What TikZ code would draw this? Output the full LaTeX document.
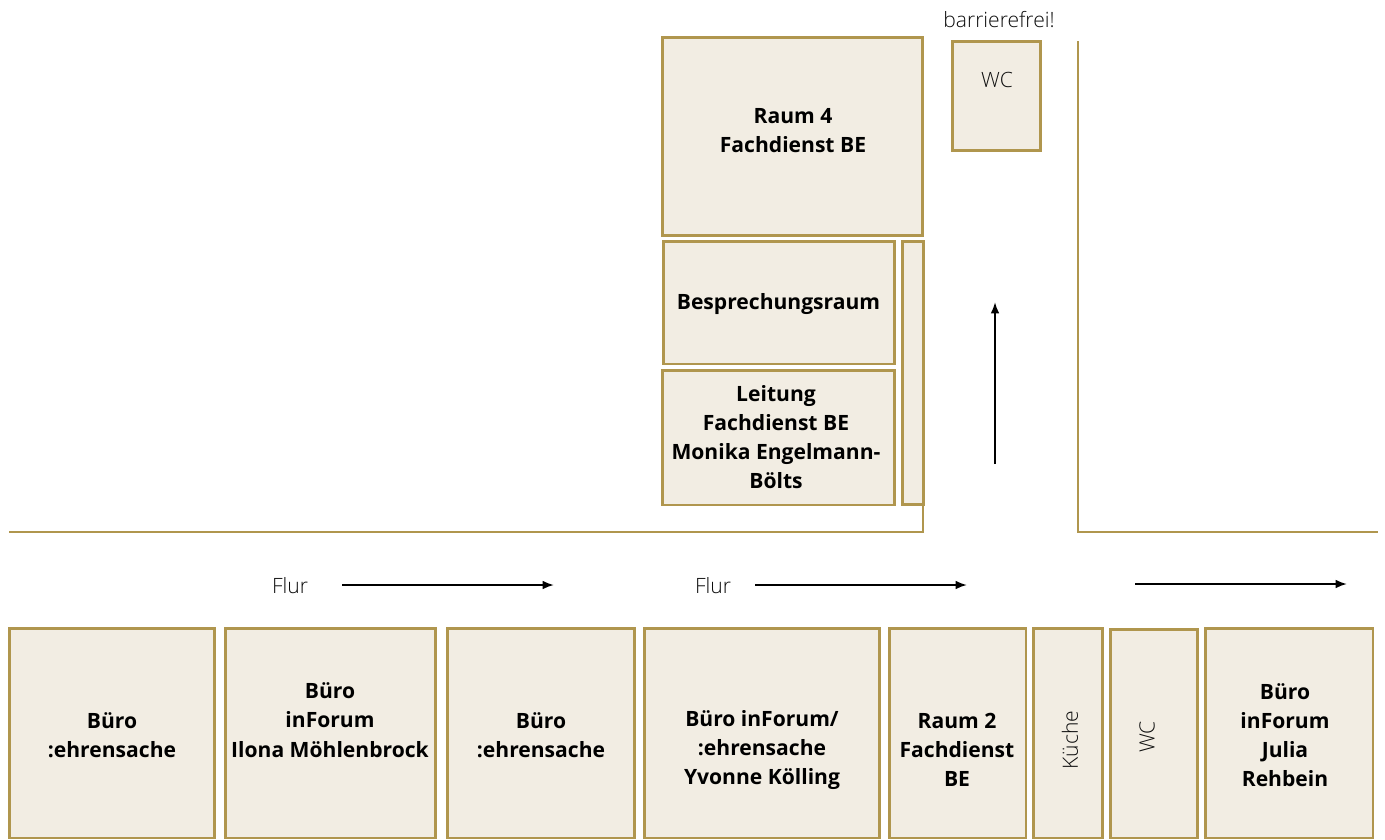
\documentclass[tikz,border=0pt]{standalone}
\usepackage{fontspec}
\setmainfont{Open Sans}
\newfontfamily\lightfont{Open Sans Light}
\usetikzlibrary{arrows.meta}
\definecolor{wallgold}{HTML}{B0964E}
\definecolor{roomfill}{HTML}{F2EDE3}
\tikzset{
  room/.style={draw=wallgold,fill=roomfill,line width=1.7pt,inner sep=0pt},
  roomname/.style={font=\fontsize{12}{16.6}\selectfont\bfseries,align=center,inner sep=0pt},
  plainname/.style={font=\fontsize{12}{14}\selectfont\lightfont,text=black!95,inner sep=0pt},
  wall/.style={draw=wallgold,line width=1.6pt},
  walk/.style={line width=1.15pt,-{Latex[length=6.5pt,width=5pt]}}
}
\begin{document}
\begin{tikzpicture}[x=0.02cm,y=-0.02cm]
    \useasboundingbox[fill=white] (0,0) rectangle (1385,839);
    % upper block
    \node[room,minimum width=5.19cm,minimum height=3.95cm] (raumvier) at (792.7,136.7) {};
    \node[room,minimum width=1.75cm,minimum height=2.18cm] (wcoben) at (996.7,96) {};
    \node[room,minimum width=4.64cm,minimum height=2.46cm] (bespr) at (779,302.5) {};
    \node[room,minimum width=4.64cm,minimum height=2.70cm] (leitung) at (778.5,437.5) {};
    \node[room,minimum width=0.42cm,minimum height=5.28cm] (schmal) at (912.5,373) {};
    % lower row
    \node[room,minimum width=4.12cm,minimum height=4.20cm] (bueroa) at (112,733) {};
    \node[room,minimum width=4.22cm,minimum height=4.20cm] (buerob) at (330.5,733) {};
    \node[room,minimum width=3.76cm,minimum height=4.20cm] (bueroc) at (541,733) {};
    \node[room,minimum width=4.72cm,minimum height=4.20cm] (buerod) at (762,733) {};
    \node[room,minimum width=2.74cm,minimum height=4.20cm] (raumzwei) at (957.5,733) {};
    \node[room,minimum width=1.38cm,minimum height=4.20cm] (kueche) at (1067.5,733) {};
    \node[room,minimum width=1.74cm,minimum height=4.18cm] (wcunten) at (1153.5,733.5) {};
    \node[room,minimum width=3.36cm,minimum height=4.20cm] (bueroe) at (1289,733) {};
    % labels
    \node[roomname] (traumvier) at (793,130.5) {Raum 4\\Fachdienst BE};
    \node[roomname] (tbespr) at (778.5,304) {Besprechungsraum};
    \node[roomname] (tleitung) at (776,437) {Leitung\\Fachdienst BE\\Monika Engelmann-\\Bölts};
    \node[roomname] (tbueroa) at (112,735) {Büro\\:ehrensache};
    \node[roomname] (tbuerob) at (330,720) {Büro\\inForum\\Ilona Möhlenbrock};
    \node[roomname] (tbueroc) at (541,735) {Büro\\:ehrensache};
    \node[roomname] (tbuerod) at (762,750) {Büro inForum/\\:ehrensache\\Yvonne Kölling};
    \node[roomname] (traumzwei) at (957,750) {Raum 2\\Fachdienst\\BE};
    \node[roomname] (tbueroe) at (1285,735) {Büro\\inForum\\Julia\\Rehbein};
    \node[plainname] (barriere) at (999,20) {barrierefrei!};
    \node[plainname] (twcoben) at (997,80) {WC};
    \node[plainname,rotate=90] (tkueche) at (1070,740) {Küche};
    \node[plainname,rotate=90] (twcunten) at (1147,737) {WC};
    \node[plainname] (flura) at (290,586) {Flur};
    \node[plainname] (flurb) at (713,586) {Flur};
    % corridor walls
    \coordinate (wallastart) at (9,532);
    \coordinate (wallaknick) at (923,532);
    \coordinate (wallbstart) at (1078,41);
    \coordinate (wallbknick) at (1078,532);
    \coordinate (wallbend) at (1378,532);
    \draw[wall] (wallastart) -- (wallaknick) -- (wallaknick |- schmal.south);
    \draw[wall] (wallbstart) -- (wallbknick) -- (wallbend);
    % walking directions
    \coordinate (gehafrom) at (342,585);
    \coordinate (gehato) at (554,585);
    \coordinate (gehbfrom) at (755,585);
    \coordinate (gehbto) at (967,585);
    \coordinate (gehcfrom) at (1135,584);
    \coordinate (gehcto) at (1347,584);
    \coordinate (gehdfrom) at (995,464);
    \coordinate (gehdto) at (995,302);
    \draw[walk] (gehafrom) -- (gehato);
    \draw[walk] (gehbfrom) -- (gehbto);
    \draw[walk] (gehcfrom) -- (gehcto);
    \draw[walk] (gehdfrom) -- (gehdto);
\end{tikzpicture}
\end{document}
